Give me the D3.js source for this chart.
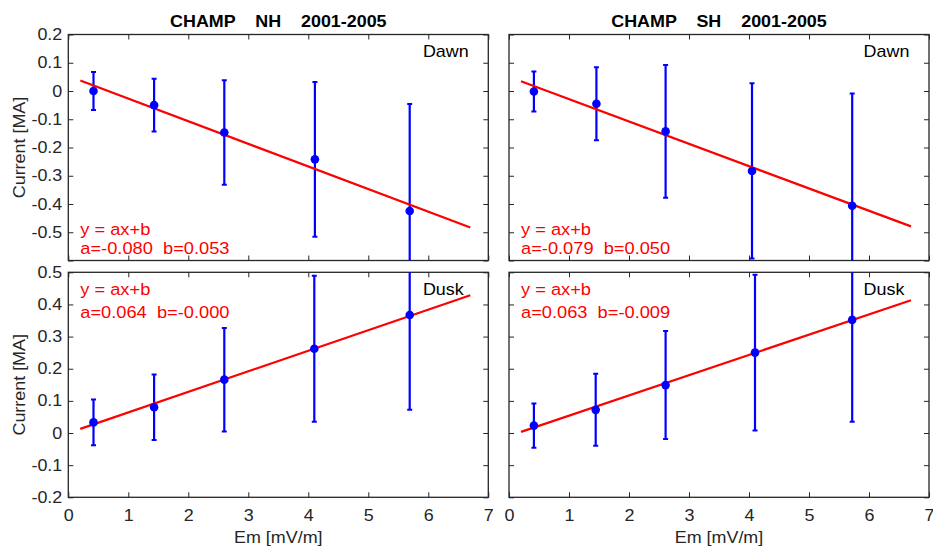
<!DOCTYPE html>
<html>
<head>
<meta charset="utf-8">
<script src="https://cdn.jsdelivr.net/npm/d3@7"></script>
<style>
  html, body { margin: 0; padding: 0; background: #fff; }
  svg { display: block; }
  text { font-family: "Liberation Sans", Arial, sans-serif; white-space: pre; }
</style>
</head>
<body>
<svg id="chart" width="933" height="547"></svg>
<script>
// ---------------- data ----------------
const xTicks = [0, 1, 2, 3, 4, 5, 6, 7];
const yTicksDawn = [0.2, 0.1, 0, -0.1, -0.2, -0.3, -0.4, -0.5, -0.6];
const yTickLabelsDawn = ["0.2", "0.1", "0", "-0.1", "-0.2", "-0.3", "-0.4", "-0.5", ""];
const yTicksDusk = [0.5, 0.4, 0.3, 0.2, 0.1, 0, -0.1, -0.2];
const yTickLabelsDusk = ["0.5", "0.4", "0.3", "0.2", "0.1", "0", "-0.1", "-0.2"];

const titles = ["CHAMP    NH    2001-2005", "CHAMP    SH    2001-2005"];

// NH dawn
const nhDawnX = [0.42, 1.43, 2.60, 4.11, 5.69];
const nhDawnY = [0.000, -0.050, -0.147, -0.242, -0.425];
const nhDawnErr = [0.067, 0.093, 0.185, 0.274, 0.379];
const nhDawnFit = { a: -0.080, b: 0.053, label: "a=-0.080  b=0.053" };
// NH dusk
const nhDuskX = [0.42, 1.43, 2.60, 4.10, 5.69];
const nhDuskY = [0.033, 0.080, 0.166, 0.262, 0.367];
const nhDuskErr = [0.071, 0.102, 0.161, 0.227, 0.295];
const nhDuskFit = { a: 0.064, b: -0.000, label: "a=0.064  b=-0.000" };
// SH dawn
const shDawnX = [0.415, 1.457, 2.61, 4.05, 5.72];
const shDawnY = [-0.002, -0.045, -0.143, -0.283, -0.406];
const shDawnErr = [0.071, 0.129, 0.235, 0.310, 0.397];
const shDawnFit = { a: -0.079, b: 0.050, label: "a=-0.079  b=0.050" };
// SH dusk
const shDuskX = [0.415, 1.445, 2.61, 4.10, 5.72];
const shDuskY = [0.023, 0.072, 0.149, 0.250, 0.352];
const shDuskErr = [0.069, 0.112, 0.168, 0.242, 0.317];
const shDuskFit = { a: 0.063, b: -0.009, label: "a=0.063  b=-0.009" };

const fitRange = [0.2, 6.7];
const xDomain = [0, 7];
const dawnDomain = [-0.6, 0.2];
const duskDomain = [-0.2, 0.5];

// ---------------- layout ----------------
const SX = 1.12; // horizontal glyph stretch of the reference font
const FS = 16;
const colLeft = [68.3, 509];
const colWidth = 420;
const rowTop = [34.5, 272.3];
const rowHeight = [226, 225];
const axisColor = "#262626";
const blue = "#0000ff";
const red = "#ff0000";

const svg = d3.select("#chart");

function stretchText(sel) {
  sel.each(function () {
    const t = d3.select(this);
    const x = +t.attr("x") || 0, y = +t.attr("y") || 0;
    t.attr("x", 0).attr("y", 0).attr("transform", `translate(${x},${y}) scale(${SX},1)`);
  });
}

function addText(g, x, y, str, opts) {
  const t = g.append("text")
    .attr("transform", `translate(${x},${y}) scale(${SX},1)`)
    .attr("font-size", opts.size || FS)
    .attr("fill", opts.color || axisColor)
    .attr("text-anchor", opts.anchor || "start")
    .attr("font-weight", opts.weight || "normal")
    .text(str);
  return t;
}

const panels = [
  { col: 0, row: 0, x: nhDawnX, y: nhDawnY, err: nhDawnErr, fit: nhDawnFit, domain: dawnDomain, ticks: yTicksDawn, tickLabels: yTickLabelsDawn, tag: "Dawn", tagY: 0.122, fitY: [-0.508, -0.578] },
  { col: 1, row: 0, x: shDawnX, y: shDawnY, err: shDawnErr, fit: shDawnFit, domain: dawnDomain, ticks: yTicksDawn, tickLabels: yTickLabelsDawn, tag: "Dawn", tagY: 0.122, fitY: [-0.508, -0.578] },
  { col: 0, row: 1, x: nhDuskX, y: nhDuskY, err: nhDuskErr, fit: nhDuskFit, domain: duskDomain, ticks: yTicksDusk, tickLabels: yTickLabelsDusk, tag: "Dusk", tagY: 0.428, fitY: [0.428, 0.358] },
  { col: 1, row: 1, x: shDuskX, y: shDuskY, err: shDuskErr, fit: shDuskFit, domain: duskDomain, ticks: yTicksDusk, tickLabels: yTickLabelsDusk, tag: "Dusk", tagY: 0.428, fitY: [0.428, 0.358] }
];

panels.forEach((p, i) => {
  const left = colLeft[p.col], top = rowTop[p.row], w = colWidth, h = rowHeight[p.row];
  const x = d3.scaleLinear().domain(xDomain).range([left, left + w]);
  const y = d3.scaleLinear().domain(p.domain).range([top + h, top]);
  const g = svg.append("g");

  const clipId = "clip" + i;
  svg.append("clipPath").attr("id", clipId)
    .append("rect").attr("x", left).attr("y", top).attr("width", w).attr("height", h);

  // ticks: bottom / top
  const ax = g.append("g").attr("transform", `translate(0,${top + h})`)
    .call(d3.axisBottom(x).tickValues(xTicks).tickSize(-5).tickPadding(12.3)
      .tickFormat(p.row === 1 ? d3.format("d") : () => ""));
  ax.select(".domain").remove();
  ax.selectAll("line").attr("stroke", axisColor);
  ax.selectAll("text").attr("font-size", FS).attr("fill", axisColor)
    .attr("font-family", "Liberation Sans, Arial, sans-serif").call(stretchText);

  const axT = g.append("g").attr("transform", `translate(0,${top})`)
    .call(d3.axisTop(x).tickValues(xTicks).tickSize(-5).tickFormat(() => ""));
  axT.select(".domain").remove();
  axT.selectAll("line").attr("stroke", axisColor);

  // ticks: left / right
  const ay = g.append("g").attr("transform", `translate(${left},0)`)
    .call(d3.axisLeft(y).tickValues(p.ticks).tickSize(-5).tickPadding(6)
      .tickFormat((d, k) => p.col === 0 ? p.tickLabels[k] : ""));
  ay.select(".domain").remove();
  ay.selectAll("line").attr("stroke", axisColor);
  ay.selectAll("text").attr("font-size", FS).attr("fill", axisColor)
    .attr("font-family", "Liberation Sans, Arial, sans-serif").call(stretchText);

  const ayR = g.append("g").attr("transform", `translate(${left + w},0)`)
    .call(d3.axisRight(y).tickValues(p.ticks).tickSize(-5).tickFormat(() => ""));
  ayR.select(".domain").remove();
  ayR.selectAll("line").attr("stroke", axisColor);

  // frame
  g.append("rect").attr("x", left).attr("y", top).attr("width", w).attr("height", h)
    .attr("fill", "none").attr("stroke", axisColor).attr("stroke-width", 1.3);

  const plot = g.append("g").attr("clip-path", `url(#${clipId})`);

  // error bars
  const pts = p.x.map((xv, k) => ({ x: xv, y: p.y[k], e: p.err[k] }));
  plot.selectAll(".eb").data(pts).enter().append("line")
    .attr("x1", d => x(d.x)).attr("x2", d => x(d.x))
    .attr("y1", d => y(d.y + d.e)).attr("y2", d => y(d.y - d.e))
    .attr("stroke", blue).attr("stroke-width", 2.2);
  plot.selectAll(".capT").data(pts).enter().append("line")
    .attr("x1", d => x(d.x) - 2.5).attr("x2", d => x(d.x) + 2.5)
    .attr("y1", d => y(d.y + d.e)).attr("y2", d => y(d.y + d.e))
    .attr("stroke", blue).attr("stroke-width", 2);
  plot.selectAll(".capB").data(pts).enter().append("line")
    .attr("x1", d => x(d.x) - 2.5).attr("x2", d => x(d.x) + 2.5)
    .attr("y1", d => y(d.y - d.e)).attr("y2", d => y(d.y - d.e))
    .attr("stroke", blue).attr("stroke-width", 2);

  // fit line
  const line = d3.line().x(d => x(d)).y(d => y(p.fit.a * d + p.fit.b));
  plot.append("path").datum(fitRange).attr("d", line)
    .attr("fill", "none").attr("stroke", red).attr("stroke-width", 2.2);

  // markers
  plot.selectAll(".pt").data(pts).enter().append("circle")
    .attr("cx", d => x(d.x)).attr("cy", d => y(d.y)).attr("r", 4.3)
    .attr("fill", blue);

  // annotations
  addText(g, x(0.2), y(p.fitY[0]), "y = ax+b", { size: 16.3, color: red });
  addText(g, x(0.2), y(p.fitY[1]), p.fit.label, { size: 16.3, color: red });
  addText(g, x(5.91), y(p.tagY), p.tag, { size: FS, color: "#000" });

  // titles
  if (p.row === 0) {
    addText(g, left + w / 2, 27.3, titles[p.col], { size: FS, color: "#000", anchor: "middle", weight: "bold" });
  }
  // x labels
  if (p.row === 1) {
    addText(g, left + w / 2, 542.5, "Em [mV/m]", { size: FS, color: axisColor, anchor: "middle" });
  }
  // y labels
  if (p.col === 0) {
    g.append("text")
      .attr("transform", `translate(25,${top + h / 2}) rotate(-90) scale(${SX},1)`)
      .attr("font-size", 16).attr("fill", axisColor).attr("text-anchor", "middle")
      .text("Current [MA]");
  }
});
</script>
</body>
</html>
